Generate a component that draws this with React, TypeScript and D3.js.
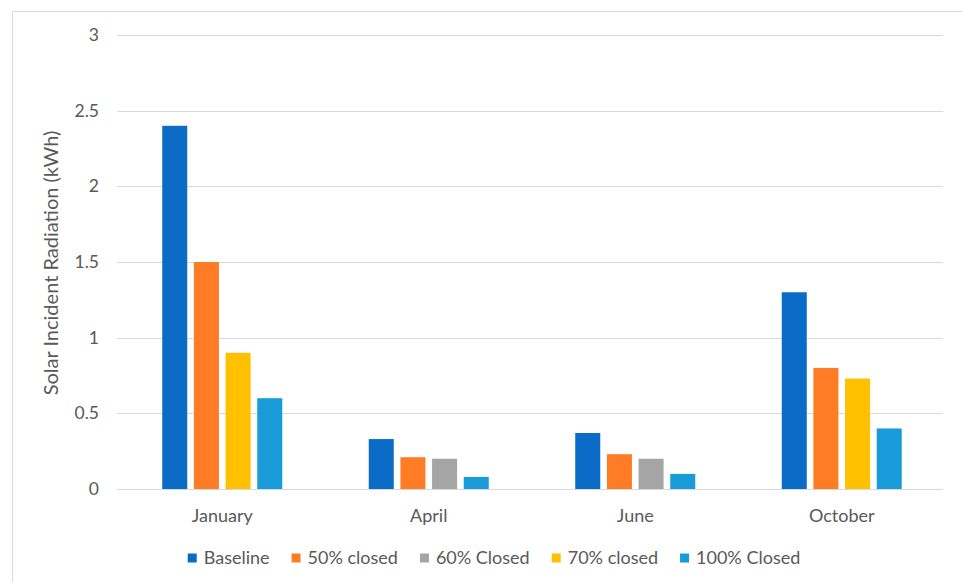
import React, { useEffect, useRef } from "react";
import * as d3 from "d3";

const categories = ["January", "April", "June", "October"];
const seriesNames = ["Baseline", "50% closed", "60% Closed", "70% closed", "100% Closed"];
const baseline = [2.4, 0.33, 0.37, 1.3];
const closed50 = [1.5, 0.21, 0.23, 0.8];
const closed60: (number | null)[] = [null, 0.2, 0.2, null];
const closed70: (number | null)[] = [0.9, null, null, 0.73];
const closed100 = [0.6, 0.08, 0.1, 0.4];
const yTicks = [0, 0.5, 1, 1.5, 2, 2.5, 3];
const colors = ["#0A6CC6", "#FF7C26", "#A5A5A5", "#FFC000", "#1A9BD9"];

const W = 962;
const H = 582;
const FONT = "Lato, 'Open Sans', sans-serif";

export default function App() {
  const ref = useRef<SVGSVGElement | null>(null);

  useEffect(() => {
    const svg = d3.select(ref.current);
    svg.selectAll("*").remove();

    const allSeries = [baseline, closed50, closed60, closed70, closed100];
    const plot = { left: 117, right: 943, top: 35, bottom: 489 };

    // chart border
    svg.append("rect").attr("x", 0).attr("y", 0).attr("width", W).attr("height", H).attr("fill", "#fff");
    svg.append("path")
      .attr("d", `M12.5,${H} V11.5 H${W}`)
      .attr("fill", "none").attr("stroke", "#D9D9D9").attr("stroke-width", 1);

    const y = d3.scaleLinear().domain([0, 3]).range([plot.bottom, plot.top]);
    const x = d3.scaleBand<string>().domain(categories).range([plot.left + 2, plot.right + 2]).padding(0);

    // gridlines
    svg.append("g").selectAll("line").data(yTicks).join("line")
      .attr("x1", plot.left).attr("x2", plot.right)
      .attr("y1", (d) => Math.round(y(d)) + 0.5).attr("y2", (d) => Math.round(y(d)) + 0.5)
      .attr("stroke", "#D9D9D9").attr("stroke-width", 1);

    // y tick labels
    svg.append("g").selectAll("text").data(yTicks).join("text")
      .attr("x", 99).attr("y", (d) => y(d))
      .attr("dy", "0.35em").attr("text-anchor", "end")
      .attr("font-family", FONT).attr("font-size", 17.5).attr("fill", "#595959")
      .text((d) => d3.format("")(d));

    // y title
    svg.append("text")
      .attr("transform", `translate(58,${(128 + 398) / 2}) rotate(-90)`)
      .attr("text-anchor", "middle")
      .attr("font-family", FONT).attr("font-size", 20).attr("fill", "#595959")
      .text("Solar Incident Radiation (kWh)");

    // bars: each category shows only its present series, packed together
    const slot = d3.scaleBand<number>().domain([0, 1, 2, 3]).range([-60, 60]).paddingInner(0.21);
    categories.forEach((cat, ci) => {
      const present = allSeries
        .map((s, si) => ({ si, v: s[ci] }))
        .filter((d) => d.v !== null && d.v !== undefined) as { si: number; v: number }[];
      const cx = (x(cat) as number) + x.bandwidth() / 2;
      svg.append("g").selectAll("rect").data(present).join("rect")
        .attr("x", (_d, i) => cx + (slot(i) as number))
        .attr("width", slot.bandwidth())
        .attr("y", (d) => y(d.v))
        .attr("height", (d) => y(0) - y(d.v))
        .attr("fill", (d) => colors[d.si]);
    });

    // category labels
    svg.append("g").selectAll("text").data(categories).join("text")
      .attr("x", (d) => (x(d) as number) + x.bandwidth() / 2)
      .attr("y", 522)
      .attr("text-anchor", "middle")
      .attr("font-family", FONT).attr("font-size", 18).attr("fill", "#595959")
      .text((d) => d);

    // legend
    const lg = svg.append("g");
    const items = seriesNames.map((name, i) => {
      const g = lg.append("g");
      g.append("rect").attr("x", 0).attr("y", -4.5).attr("width", 9).attr("height", 9).attr("fill", colors[i]);
      const t = g.append("text").attr("x", 16).attr("y", 0).attr("dy", "0.35em")
        .attr("font-family", FONT).attr("font-size", 18).attr("fill", "#595959").text(name);
      const w = 16 + (t.node() as SVGTextElement).getComputedTextLength();
      return { g, w };
    });
    const gap = 22;
    const total = d3.sum(items, (d) => d.w) + gap * (items.length - 1);
    let cursor = 494 - total / 2;
    items.forEach((it) => {
      it.g.attr("transform", `translate(${cursor},558)`);
      cursor += it.w + gap;
    });
  }, []);

  return (
    <svg
      ref={ref}
      width={W}
      height={H}
      style={{ position: "absolute", left: 0, top: 0, display: "block" }}
    />
  );
}
